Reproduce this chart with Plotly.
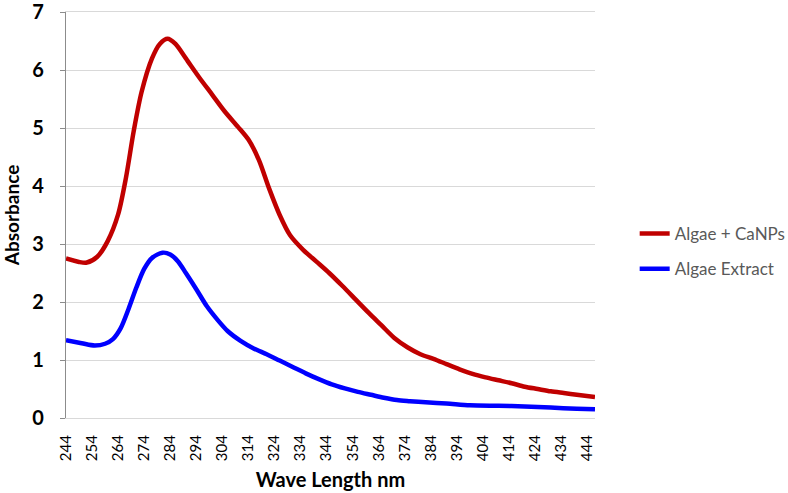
import plotly.graph_objects as go

wavelength_red = [244, 249, 252, 256, 260, 264, 267, 270, 273, 277, 280, 283, 286, 290, 295, 300,
                  305, 310, 314, 318, 322, 326, 330, 335, 340, 345, 350, 355, 360, 365, 370, 375,
                  380, 385, 390, 395, 400, 405, 410, 415, 420, 425, 430, 435, 440, 447]
absorb_red = [2.75, 2.69, 2.68, 2.78, 3.05, 3.51, 4.14, 4.95, 5.62, 6.2, 6.45, 6.54, 6.45, 6.2, 5.88, 5.58,
              5.28, 5.02, 4.8, 4.45, 3.95, 3.5, 3.15, 2.9, 2.7, 2.5, 2.28, 2.05, 1.82, 1.6, 1.38, 1.22,
              1.1, 1.02, 0.93, 0.84, 0.76, 0.7, 0.65, 0.6, 0.54, 0.5, 0.46, 0.43, 0.4, 0.36]

wavelength_blue = [244, 250, 255, 259, 262, 265, 268, 271, 274, 277, 281, 284, 287, 290, 294, 298,
                   302, 306, 311, 316, 321, 326, 331, 336, 341, 346, 351, 356, 361, 366, 371, 376,
                   382, 390, 399, 410, 420, 430, 440, 447]
absorb_blue = [1.34, 1.29, 1.25, 1.28, 1.36, 1.55, 1.88, 2.25, 2.57, 2.76, 2.85, 2.82, 2.7, 2.5, 2.22, 1.93,
               1.7, 1.5, 1.33, 1.2, 1.1, 0.99, 0.88, 0.77, 0.67, 0.58, 0.51, 0.45, 0.4, 0.35, 0.31, 0.29,
               0.27, 0.25, 0.22, 0.21, 0.2, 0.18, 0.16, 0.15]

x_ticks = list(range(244, 445, 10))
x_tick_labels = [str(v) for v in x_ticks]
y_ticks = [0, 1, 2, 3, 4, 5, 6, 7]

FONT = "Lato, 'Open Sans', sans-serif"

fig = go.Figure()
fig.add_trace(go.Scatter(x=wavelength_red, y=absorb_red, mode="lines", name="Algae + CaNPs",
                         legendgroup="red",
                         line=dict(color="#C00000", width=4.5, shape="spline", smoothing=0.8)))
fig.add_trace(go.Scatter(x=wavelength_blue, y=absorb_blue, mode="lines", name="Algae Extract",
                         legendgroup="blue",
                         line=dict(color="#0000FF", width=4.5, shape="spline", smoothing=0.8)))

fig.update_layout(
    width=788, height=493,
    margin=dict(l=66, r=193, t=12, b=75, autoexpand=False),
    paper_bgcolor="white", plot_bgcolor="white",
    font=dict(family=FONT, color="black"),
    showlegend=True,
    legend=dict(x=1.075, y=0.41, xanchor="left", yanchor="middle",
                font=dict(size=17, color="#595959"), tracegroupgap=10,
                bgcolor="rgba(0,0,0,0)"),
    xaxis=dict(range=[244, 447], tickmode="array", tickvals=x_ticks, ticktext=x_tick_labels,
               tickangle=-90, tickfont=dict(size=15, color="black"), automargin=False,
               ticklabelstandoff=10, ticklabeloverflow="allow",
               showgrid=False, zeroline=False, showline=True, mirror=True,
               linecolor="#D9D9D9", linewidth=1.2, ticks="",
               title=dict(text="<b>Wave Length nm</b>", font=dict(size=20, color="black"), standoff=12)),
    yaxis=dict(range=[0, 7], tickmode="array", tickvals=y_ticks, automargin=False,
               tickfont=dict(size=20, color="black", weight="bold"), ticklabelstandoff=12,
               ticklabeloverflow="allow",
               showgrid=True, gridcolor="#D9D9D9", gridwidth=1.2, zeroline=False,
               showline=True, linecolor="#8C8C8C", linewidth=1.2,
               ticks="outside", ticklen=5, tickcolor="#8C8C8C",
               title=dict(text="<b>Absorbance</b>", font=dict(size=19, color="black"), standoff=11)),
)

fig.write_html("out.html", post_script="document.body.style.margin='0';",
               config={"displayModeBar": False})
